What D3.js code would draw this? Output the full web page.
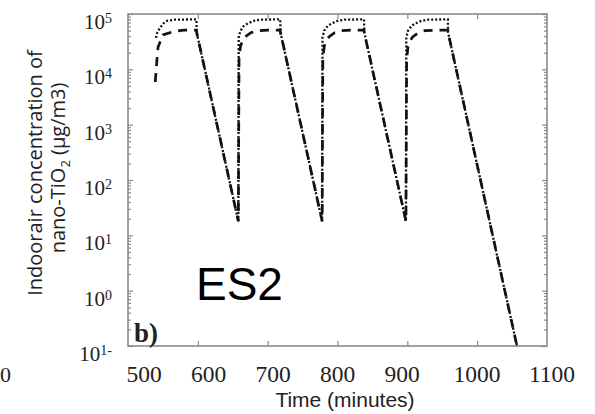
<!DOCTYPE html>
<html><head><meta charset="utf-8">
<script src="https://cdn.jsdelivr.net/npm/d3@7"></script>
<style>body{margin:0;background:#fff}</style>
</head><body><svg id="c" width="595" height="414"></svg>
<script>
// ---- data ----
const xTickValues = [500, 600, 700, 800, 900, 1000, 1100];
const xTickLabels = ["500", "600", "700", "800", "900", "1000", "1100"];
const yTickValues = [0.1, 1, 10, 100, 1000, 10000, 100000];
const yTickBase = "10";
const yTickExponents = ["1-", "0", "1", "2", "3", "4", "5"];

// upper (dotted) curve: time in minutes, concentration in µg/m3
const timeUpper = [540, 542, 546, 551, 556, 566, 598, 598.4, 658,
  658.5, 661, 666, 672, 680, 690, 718, 718.4, 778,
  778.5, 781, 786, 792, 800, 810, 838, 838.4, 898,
  898.5, 901, 906, 912, 920, 930, 958, 958.4, 1057];
const valueUpper = [3.7e4, 4.6e4, 5.7e4, 6.8e4, 7.5e4, 7.9e4, 8.0e4, 4.6e4, 18,
  3.8e4, 5.0e4, 6.1e4, 6.8e4, 7.5e4, 7.9e4, 8.0e4, 4.6e4, 18,
  3.8e4, 5.0e4, 6.1e4, 6.8e4, 7.5e4, 7.9e4, 8.0e4, 4.6e4, 18,
  3.8e4, 5.0e4, 6.1e4, 6.8e4, 7.5e4, 7.9e4, 8.0e4, 4.6e4, 0.1];

// lower (dashed) curve
const timeLower = [539, 541.5, 543, 550, 567, 580, 598, 598.4, 658,
  659, 661, 664, 668, 676, 685, 700, 718, 718.4, 778,
  779, 781, 784, 788, 796, 805, 820, 838, 838.4, 898,
  899, 901, 904, 908, 916, 925, 940, 958, 958.4, 1057];
const valueLower = [5.9e3, 1.5e4, 2.5e4, 4.2e4, 4.9e4, 5.1e4, 5.1e4, 4.6e4, 18,
  1.5e4, 2.6e4, 3.3e4, 3.9e4, 4.6e4, 5.0e4, 5.1e4, 5.1e4, 4.6e4, 18,
  1.5e4, 2.6e4, 3.3e4, 3.9e4, 4.6e4, 5.0e4, 5.1e4, 5.1e4, 4.6e4, 18,
  1.5e4, 2.6e4, 3.3e4, 3.9e4, 4.6e4, 5.0e4, 5.1e4, 5.1e4, 4.6e4, 0.1];

// ---- drawing ----
const svg = d3.select("#c");
const x = d3.scaleLinear().domain([500, 1100]).range([128, 547]);
const y = d3.scaleLog().domain([0.1, 1e5]).range([346, 14]);
// the reference's tick-label row is shifted against the plot ticks
const xLab = d3.scaleLinear().domain([500, 900, 1100]).range([144, 402, 552]);

const spine = "#8a8a8a";
const allY = y.ticks();
const minorY = allY.filter(v => !yTickValues.some(m => Math.abs(m - v) / m < 1e-9));

function styleAxis(g) {
  g.select(".domain").remove();
  g.selectAll(".tick line").attr("stroke", spine).attr("stroke-width", 1.2);
  g.selectAll(".tick text").remove();
}
// inner ticks
svg.append("g").attr("transform", `translate(0,${y(0.1)})`)
  .call(d3.axisTop(x).tickValues([600, 700, 800, 900, 1000]).tickSize(5)).call(styleAxis);
svg.append("g").attr("transform", `translate(0,${y(1e5)})`)
  .call(d3.axisBottom(x).tickValues([600, 700, 800, 900, 1000]).tickSize(5)).call(styleAxis);
svg.append("g").attr("transform", `translate(${x(500)},0)`)
  .call(d3.axisRight(y).tickValues(yTickValues).tickSize(5)).call(styleAxis);
svg.append("g").attr("transform", `translate(${x(500)},0)`)
  .call(d3.axisRight(y).tickValues(minorY).tickSize(3)).call(styleAxis);
svg.append("g").attr("transform", `translate(${x(1100)},0)`)
  .call(d3.axisLeft(y).tickValues(yTickValues).tickSize(5)).call(styleAxis);
svg.append("g").attr("transform", `translate(${x(1100)},0)`)
  .call(d3.axisLeft(y).tickValues(minorY).tickSize(3)).call(styleAxis);

// frame
svg.append("rect")
  .attr("x", x(500)).attr("y", y(1e5))
  .attr("width", x(1100) - x(500)).attr("height", y(0.1) - y(1e5))
  .attr("fill", "none").attr("stroke", spine).attr("stroke-width", 1.6);

// curves
const line = d3.line().x(d => x(d[0])).y(d => y(d[1]));
const upper = timeUpper.map((t, i) => [t, valueUpper[i]]);
const lower = timeLower.map((t, i) => [t, valueLower[i]]);
svg.append("path").datum(upper).attr("d", line)
  .attr("fill", "none").attr("stroke", "#111").attr("stroke-width", 2.3)
  .attr("stroke-dasharray", "2,2");
svg.append("path").datum(lower).attr("d", line)
  .attr("fill", "none").attr("stroke", "#111").attr("stroke-width", 2.7)
  .attr("stroke-dasharray", "9,7");

// y tick labels
const serif = "'Liberation Serif','Times New Roman',serif";
yTickValues.forEach((v, i) => {
  const t = svg.append("text").attr("x", 112).attr("y", y(v) + 15)
    .attr("text-anchor", "end").attr("font-family", serif)
    .attr("font-size", 21).attr("fill", "#222");
  t.append("tspan").text(yTickBase);
  t.append("tspan").attr("font-size", 14).attr("dy", -6).text(yTickExponents[i]);
});
// x tick labels
xTickValues.forEach((v, i) => {
  svg.append("text").attr("x", xLab(v)).attr("y", 382)
    .attr("text-anchor", "middle").attr("font-family", serif)
    .attr("font-size", 23.5).attr("fill", "#222").text(xTickLabels[i]);
});
// fragment of the neighbouring panel's last label
svg.append("text").attr("x", 0).attr("y", 382).attr("text-anchor", "start")
  .attr("font-family", serif).attr("font-size", 22).attr("fill", "#222").text("0");

const sans = "'Open Sans','Noto Sans',Arial,sans-serif";
svg.append("text").attr("x", 345).attr("y", 406.5).attr("text-anchor", "middle")
  .attr("font-family", "'Liberation Sans',Arial,sans-serif").attr("font-size", 21)
  .attr("fill", "#222").text("Time (minutes)");

svg.append("text").attr("transform", "translate(42,173) rotate(-90)")
  .attr("text-anchor", "middle").attr("font-family", sans).attr("font-size", 20)
  .attr("fill", "#222").text("Indoorair concentration of");
const l2 = svg.append("text").attr("transform", "translate(65,168) rotate(-90)")
  .attr("text-anchor", "middle").attr("font-family", sans).attr("font-size", 20)
  .attr("fill", "#222");
l2.append("tspan").text("nano-TiO");
l2.append("tspan").attr("font-size", 13).attr("dy", 5).text("2");
l2.append("tspan").attr("dy", -5).text(" (µg/m3)");

svg.append("text").attr("x", 196).attr("y", 300)
  .attr("font-family", "'Liberation Sans',Arial,sans-serif").attr("font-size", 46)
  .attr("fill", "#000").text("ES2");
svg.append("text").attr("x", 134).attr("y", 342)
  .attr("font-family", serif).attr("font-weight", "bold").attr("font-size", 27)
  .attr("fill", "#222").text("b)");
</script></body></html>
